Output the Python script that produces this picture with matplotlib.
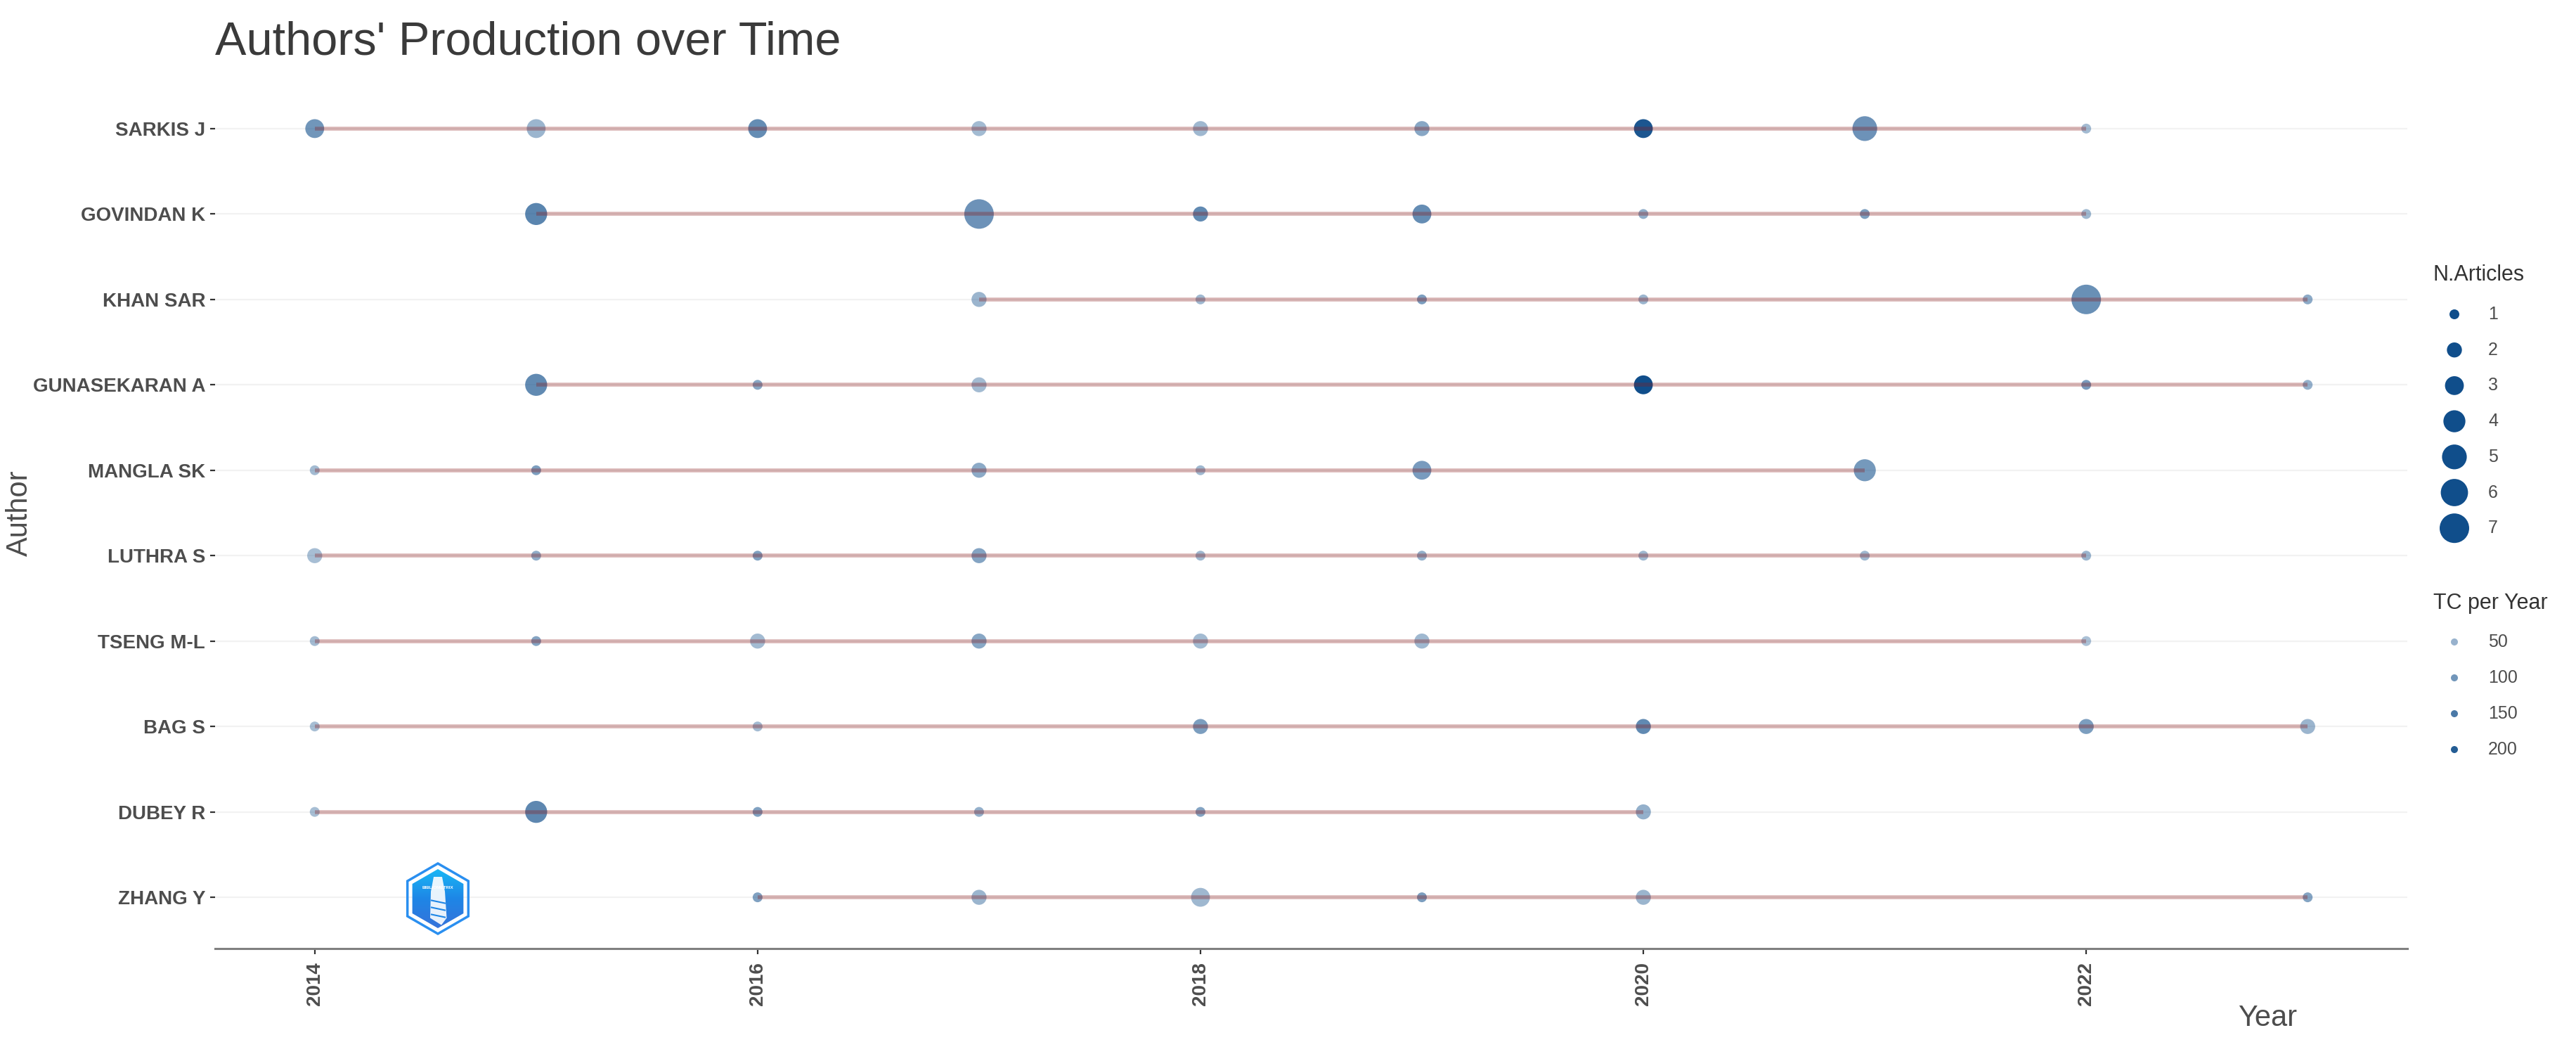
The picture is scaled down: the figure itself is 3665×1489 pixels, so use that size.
import numpy as np
import matplotlib
matplotlib.use("Agg")
import matplotlib.pyplot as plt
from matplotlib.patches import RegularPolygon, Polygon
from matplotlib.colors import to_rgba, LinearSegmentedColormap

plt.rcParams['font.family'] = ['Liberation Sans', 'DejaVu Sans']

# top to bottom, as in the chart
authors = ["SARKIS J", "GOVINDAN K", "KHAN SAR", "GUNASEKARAN A", "MANGLA SK",
           "LUTHRA S", "TSENG M-L", "BAG S", "DUBEY R", "ZHANG Y"]

years = [
    [2014, 2015, 2016, 2017, 2018, 2019, 2020, 2021, 2022],
    [2015, 2017, 2018, 2019, 2020, 2021, 2022],
    [2017, 2018, 2019, 2020, 2022, 2023],
    [2015, 2016, 2017, 2020, 2022, 2023],
    [2014, 2015, 2017, 2018, 2019, 2021],
    [2014, 2015, 2016, 2017, 2018, 2019, 2020, 2021, 2022],
    [2014, 2015, 2016, 2017, 2018, 2019, 2022],
    [2014, 2016, 2018, 2020, 2022, 2023],
    [2014, 2015, 2016, 2017, 2018, 2020],
    [2016, 2017, 2018, 2019, 2020, 2023],
]
n_articles = [
    [3, 3, 3, 2, 2, 2, 3, 5, 1],
    [4, 7, 2, 3, 1, 1, 1],
    [2, 1, 1, 1, 7, 1],
    [4, 1, 2, 3, 1, 1],
    [1, 1, 2, 1, 3, 4],
    [2, 1, 1, 2, 1, 1, 1, 1, 1],
    [1, 1, 2, 2, 2, 2, 1],
    [1, 1, 2, 2, 2, 2],
    [1, 4, 1, 1, 1, 2],
    [1, 2, 3, 1, 2, 1],
]
tc_per_year = [
    [100, 45, 115, 35, 40, 70, 210, 105, 35],
    [130, 105, 120, 115, 60, 85, 40],
    [45, 40, 85, 45, 110, 65],
    [120, 70, 35, 225, 90, 55],
    [35, 85, 65, 40, 90, 95],
    [30, 60, 80, 75, 40, 55, 40, 40, 45],
    [35, 75, 35, 70, 35, 40, 25],
    [30, 35, 85, 120, 85, 45],
    [30, 125, 80, 55, 75, 55],
    [80, 45, 40, 85, 45, 75],
]
x_ticks = [2014, 2016, 2018, 2020, 2022]
size_breaks = [1, 2, 3, 4, 5, 6, 7]
tc_breaks = [50, 100, 150, 200]

W, H = 3666, 1489
POINT = '#104E8B'   # dodgerblue4
LINE = '#8B1A1A'    # firebrick4
TXT = '#4d4d4d'

all_tc = np.concatenate([np.array(t, float) for t in tc_per_year])
tc_lo, tc_hi = all_tc.min(), all_tc.max()


def dot_px(n):
    # area scaled size, like scale_size(range = c(2, 6))
    n = np.asarray(n, float)
    return 7.0 * np.sqrt(4 + 32 * (n - 1) / 6)


def tc_alpha(tc):
    tc = np.asarray(tc, float)
    return np.clip(0.35 + 0.65 * (tc - tc_lo) / (tc_hi - tc_lo), 0, 1)


def colors_for(tc):
    base = np.array(to_rgba(POINT))
    cols = np.tile(base, (len(np.atleast_1d(tc)), 1))
    cols[:, 3] = tc_alpha(tc)
    return cols


fig = plt.figure(figsize=(W / 100, H / 100), dpi=100)
fig.patch.set_facecolor('white')

ax = fig.add_axes([306 / W, 1 - 1349 / H, (3425 - 306) / W, (1349 - 110) / H])
n_auth = len(authors)
ypos = np.arange(n_auth)[::-1] + 1

for yv, yr, na, tc in zip(ypos, years, n_articles, tc_per_year):
    ax.scatter(yr, [yv] * len(yr), s=(dot_px(na) * 0.72) ** 2,
               c=colors_for(tc), edgecolors='none', zorder=2)
    ax.plot([min(yr), max(yr)], [yv, yv], color=LINE, alpha=0.32, lw=4.0,
            solid_capstyle='butt', zorder=3)

ax.set_xlim(2013.55, 2023.45)
ax.set_ylim(0.4, n_auth + 0.6)
ax.set_xticks(x_ticks)
ax.set_xticklabels([str(t) for t in x_ticks], rotation=90, fontsize=20,
                   fontweight='bold', color=TXT)
ax.set_yticks(ypos)
ax.set_yticklabels(authors, fontsize=20, fontweight='bold', color=TXT)
ax.tick_params(axis='y', length=5, width=1.6, color='#333333', pad=5)
ax.tick_params(axis='x', length=6, width=1.6, color='#333333', pad=8)
for side in ['top', 'right', 'left']:
    ax.spines[side].set_visible(False)
ax.spines['bottom'].set_color('#808080')
ax.spines['bottom'].set_linewidth(2.2)
ax.grid(axis='y', color='#f2f2f2', lw=1.6)
ax.set_axisbelow(True)

fig.text(306 / W, 1 - 78 / H, "Authors' Production over Time", fontsize=48,
         color='#3a3a3a', ha='left', va='baseline')
fig.text(28 / W, 1 - 730 / H, 'Author', fontsize=30, color=TXT,
         rotation=90, ha='center', va='center')
fig.text(3226 / W, 1 - 1448 / H, 'Year', fontsize=30, color=TXT,
         ha='center', va='center')

# legends drawn in pixel space on an overlay
lax = fig.add_axes([0, 0, 1, 1])
lax.set_xlim(0, W)
lax.set_ylim(H, 0)
lax.axis('off')

lax.text(3462, 391, 'N.Articles', fontsize=22, color='#333333', va='center')
for i, b in enumerate(size_breaks):
    yy = 447 + i * 50.7
    lax.scatter([3492], [yy], s=(dot_px(b) * 0.72) ** 2, color=POINT,
                edgecolors='none')
    lax.text(3540, yy, str(b), fontsize=18, color=TXT, va='center')

lax.text(3462, 858, 'TC per Year', fontsize=22, color='#333333', va='center')
for i, b in enumerate(tc_breaks):
    yy = 913 + i * 51
    lax.scatter([3492], [yy], s=(10 * 0.72) ** 2, c=colors_for([b]),
                edgecolors='none')
    lax.text(3540, yy, str(b), fontsize=18, color=TXT, va='center')

# bibliometrix logo
gax = fig.add_axes([(623 - 60) / W, 1 - (1278 + 60) / H, 120 / W, 120 / H])
gax.set_xlim(-1.2, 1.2)
gax.set_ylim(-1.2, 1.2)
gax.set_aspect('equal')
gax.axis('off')
outer = RegularPolygon((0, 0), numVertices=6, radius=1.0, facecolor='none',
                       edgecolor='#2a8ff0', lw=2.5)
gax.add_patch(outer)
inner = RegularPolygon((0, 0), numVertices=6, radius=0.84, facecolor='none',
                       edgecolor='none')
gax.add_patch(inner)
grad = np.linspace(0, 1, 100).reshape(-1, 1)
cmap = LinearSegmentedColormap.from_list('logo', ['#3a6fd8', '#1e86e6', '#18c0f8'])
im = gax.imshow(grad, extent=[-1, 1, 1, -1], cmap=cmap, aspect='auto')
im.set_clip_path(inner)
gax.set_ylim(-1.2, 1.2)
tower = Polygon([[-0.12, 0.62], [0.12, 0.62], [0.2, 0.2], [0.25, -0.55],
                 [0.1, -0.75], [-0.22, -0.55], [-0.2, 0.2]],
                closed=True, facecolor='white', edgecolor='none', alpha=0.9)
gax.add_patch(tower)
for yy in [-0.05, -0.25, -0.45]:
    gax.plot([-0.18, 0.2], [yy, yy - 0.08], color='#1e86e6', lw=1.5)
gax.text(0, 0.3, 'BIBLIOMETRIX', fontsize=4.5, fontweight='bold',
         color='white', ha='center', va='center')

fig.savefig('out.png', dpi=100, facecolor='white')
